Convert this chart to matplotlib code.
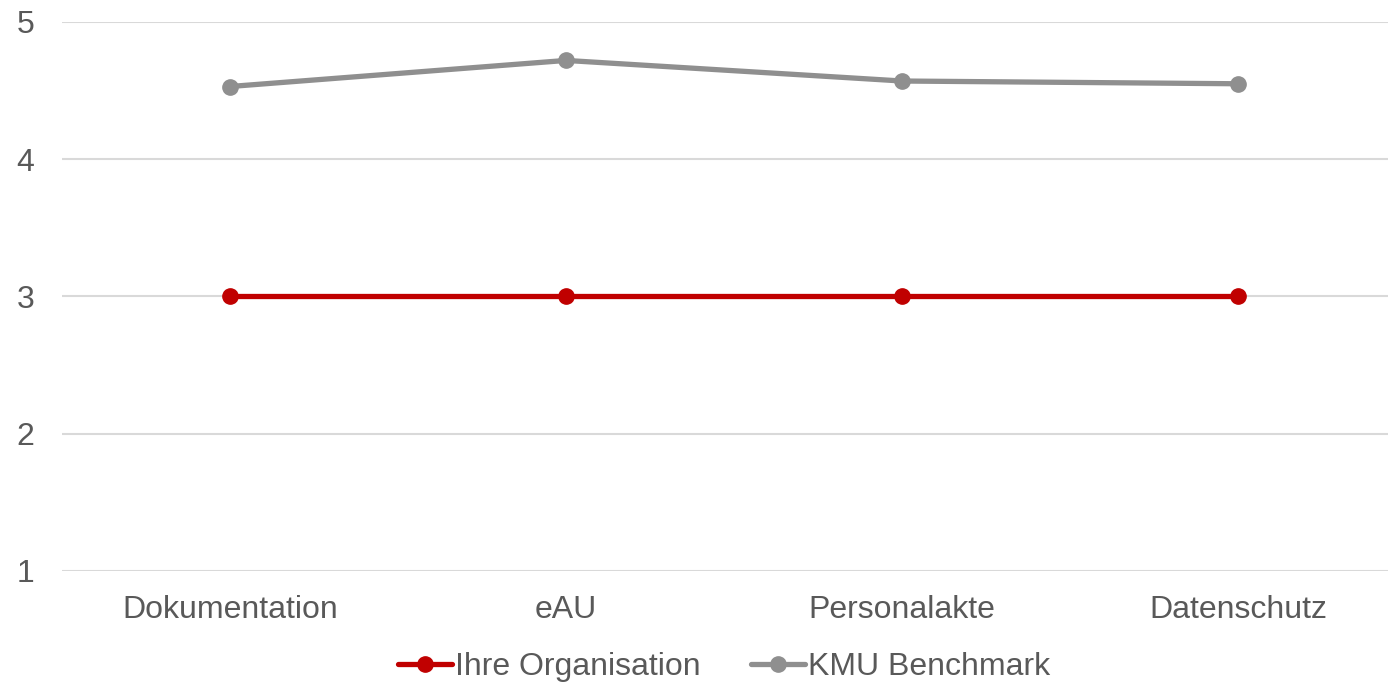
import matplotlib
matplotlib.use("Agg")
import matplotlib.pyplot as plt

categories = ["Dokumentation", "eAU", "Personalakte", "Datenschutz"]
ihre_organisation = [3, 3, 3, 3]
kmu_benchmark = [4.53, 4.72, 4.57, 4.55]
y_ticks = [1, 2, 3, 4, 5]

plt.rcParams["font.family"] = ["Liberation Sans", "DejaVu Sans"]
text_color = "#595959"
red = "#C00000"
gray = "#8F8F8F"

fig = plt.figure(figsize=(13.88, 6.84), dpi=100)
ax = fig.add_axes([62 / 1388, (684 - 571) / 684, 1344 / 1388, 549 / 684])

x = range(len(categories))
ax.plot(x, ihre_organisation, color=red, lw=3.8, marker="o", ms=11,
        label="Ihre Organisation", solid_capstyle="round", zorder=3)
ax.plot(x, kmu_benchmark, color=gray, lw=3.8, marker="o", ms=11,
        label="KMU Benchmark", solid_capstyle="round", zorder=3)

ax.set_xlim(-0.5, len(categories) - 0.5)
ax.set_ylim(1, 5)
ax.set_yticks(y_ticks)
ax.set_xticks(list(x))
ax.set_xticklabels(categories)
ax.grid(axis="y", color="#D9D9D9", lw=1.5)
ax.set_axisbelow(True)
for s in ax.spines.values():
    s.set_visible(False)
ax.tick_params(axis="both", length=0, labelsize=23, labelcolor=text_color)
ax.tick_params(axis="y", pad=20)
ax.tick_params(axis="x", pad=17)

leg = fig.legend(loc="center", bbox_to_anchor=(724 / 1388, 1 - 667 / 684),
                 ncol=2, frameon=False, fontsize=23, handlelength=1.7,
                 handletextpad=0.1, columnspacing=1.55, borderpad=0)
for t in leg.get_texts():
    t.set_color(text_color)

fig.savefig("out.png", dpi=100)
